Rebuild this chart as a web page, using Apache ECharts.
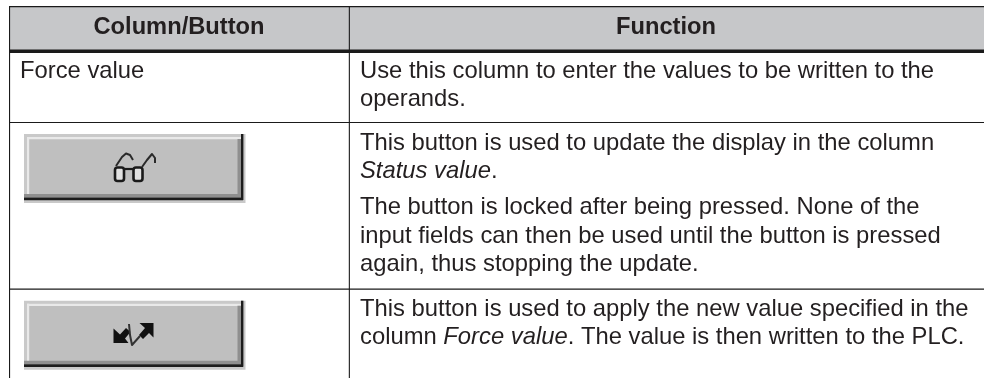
<!DOCTYPE html>
<html><head><meta charset="utf-8">
<style>html,body{margin:0;padding:0;background:#fff}#c{width:984px;height:378px}</style>
<script src="https://cdn.jsdelivr.net/npm/echarts@6/dist/echarts.min.js"></script>
</head><body><div id="c"></div>
<script>
const headers = ['Column/Button', 'Function'];
const rowFirstColumn = ['Force value'];
const functionLines = [
  ['{n|Use this column to enter the values to be written to the}', 71],
  ['{n|operands.}', 99],
  ['{n|This button is used to update the display in the column}', 143],
  ['{i|Status value}{n|.}', 171],
  ['{n|The button is locked after being pressed. None of the}', 207],
  ['{n|input fields can then be used until the button is pressed}', 236],
  ['{n|again, thus stopping the update.}', 264],
  ['{n|This button is used to apply the new value specified in the}', 309],
  ['{n|column }{i|Force value}{n|. The value is then written to the PLC.}', 337]
];
const INK = '#231f20', FONT = '"Liberation Sans", Arial, sans-serif', SIZE = 23.8;
const g = [];
const rect = (x, y, w, h, fill) => g.push({type:'rect', shape:{x, y, width:w, height:h}, style:{fill}, silent:true});
const line = (pts, w, c) => g.push({type:'polyline', shape:{points:pts}, style:{stroke:c||'#1a1a1a', lineWidth:w, fill:null, lineJoin:'round'}, silent:true});
const poly = (pts, c) => g.push({type:'polygon', shape:{points:pts}, style:{fill:c||'#111'}, silent:true});

rect(10, 7, 974, 43, '#c6c7c9');
rect(9, 6, 975, 1.2, '#1a1a1a');
rect(9, 49.5, 975, 3.4, '#1a1a1a');
rect(9, 122, 975, 1.1, '#1a1a1a');
rect(9, 288.6, 975, 1.1, '#1a1a1a');
rect(9, 6, 1.1, 372, '#1a1a1a');
rect(348.8, 6, 1.1, 372, '#1a1a1a');

function button(y) {
  const x = 24;
  rect(x, y, 221.5, 69, '#c9c9c9');
  rect(x + 3, y + 3, 214, 60, '#bfbfbf');
  rect(x + 3, y + 3, 214, 2.2, '#e9e9e9');
  rect(x + 3, y + 3, 2.2, 60, '#e9e9e9');
  rect(x, y + 60, 217, 3.5, '#8f8f8f');
  rect(x, y + 63.5, 219, 2.8, '#1c1c1c');
  rect(x + 213.5, y + 5, 3.5, 58, '#8f8f8f');
  rect(x + 217, y, 2.4, 66, '#1c1c1c');
}
button(134);
button(300.7);

// glasses icon
g.push({type:'rect', shape:{x:115, y:167.5, width:9, height:13.5, r:2.5}, style:{fill:'#e2e2e2', stroke:'#1a1a1a', lineWidth:2.6}, silent:true});
g.push({type:'rect', shape:{x:133.5, y:167.5, width:9, height:13.5, r:2.5}, style:{fill:'#e2e2e2', stroke:'#1a1a1a', lineWidth:2.6}, silent:true});
line([[124,169],[133.5,169]], 2.2);
line([[116,166],[122,157],[126,153.5],[130,155],[133,160]], 2, '#2a2a2a');
line([[142,167],[147,160],[152,154],[155,158],[155,163]], 2, '#2a2a2a');

// apply icon
poly([[113.5,328.5],[113.5,343],[128.5,343],[125,338.5],[130.5,332],[126,328],[120,334.5]]);
poly([[153.5,323],[153.5,337.5],[149,333],[143,339],[139,335],[145,328],[139.5,323]]);
line([[129,324],[130,335],[132,345],[140,336]], 2, '#333');

const text = (t, x, y, opts) => g.push({type:'text', x, y, silent:true,
  style:Object.assign({text:t, fill:INK, font:SIZE + 'px ' + FONT, verticalAlign:'middle', align:'left'}, opts||{})});

text(headers[0], 179, 27, {font:'bold 23.7px ' + FONT, align:'center'});
text(headers[1], 666, 27, {font:'bold 23.7px ' + FONT, align:'center'});
text(rowFirstColumn[0], 20, 71);
const rich = {
  n:{font:SIZE + 'px ' + FONT, fill:INK},
  i:{font:'italic ' + SIZE + 'px ' + FONT, fill:INK}
};
functionLines.forEach(([t, y]) => text(t, 360, y, {rich}));

const chart = echarts.init(document.getElementById('c'), null, {renderer:'canvas'});
chart.setOption({animation:false, graphic:{elements:g}});
</script></body></html>
